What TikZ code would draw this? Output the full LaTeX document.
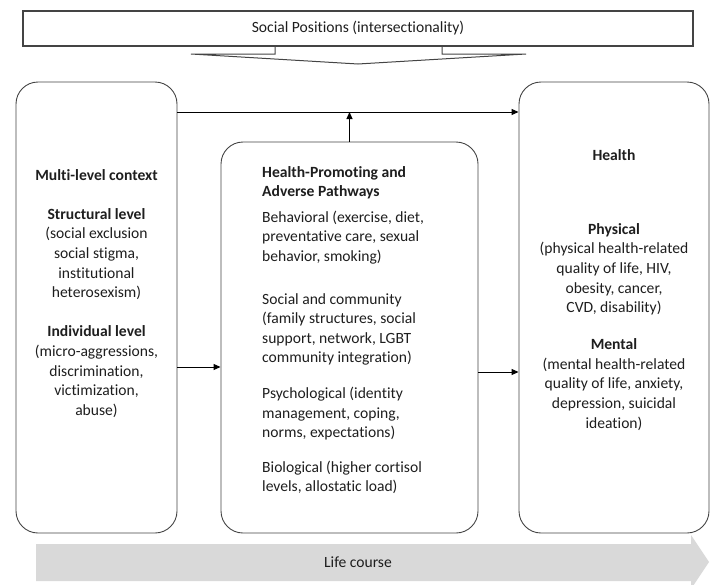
\documentclass[tikz,border=0pt]{standalone}
\usepackage{fontspec}
\setmainfont[Ligatures=NoCommon]{Carlito}
\usetikzlibrary{arrows.meta,positioning}
\definecolor{boxline}{HTML}{444444}
\definecolor{lifegray}{HTML}{D9D9D9}
\definecolor{txt}{HTML}{1E1E1E}

\begin{document}
\begin{tikzpicture}[x=1pt, y=-1pt,
  every node/.style={font=\fontsize{15.6}{19.6}\selectfont, text=txt},
  stage/.style={draw=boxline, line width=0.9pt, rounded corners=22pt, inner sep=0pt},
  blurb/.style={inner sep=0pt},
  arr/.style={-{Triangle[length=7pt,width=6pt]}, line width=1pt}]
  \clip (0,0) rectangle (715,584);

  % life course band
  \fill[lifegray] (36,544) -- (691,544) -- (691,535) -- (709,562)
    -- (691,589) -- (691,581) -- (36,581) -- cycle;
  \node (life) at (358,562) {Life course};

  % social positions banner
  \node[draw=boxline, line width=1.3pt, minimum width=670pt, minimum height=35pt,
    inner sep=0pt] (soc) at (358,28.5) {Social Positions (intersectionality)};
  \draw[boxline, line width=1pt] (275,46) -- (275,54) -- (191,54) -- (358,64)
    -- (526,54) -- (442,54) -- (442,46);

  % the three stages
  \node[stage, minimum width=161pt, minimum height=451pt] (ctx) at (96.5,307.5) {};
  \node[stage, minimum width=257pt, minimum height=391pt] (path) at (349.5,337.5) {};
  \node[stage, minimum width=190pt, minimum height=451pt] (hlth) at (614,307.5) {};

  \node[blurb, align=center, anchor=north] (ctxtext) at (96.5,169)
    {\textbf{Multi-level context}\\[19.6pt]
     \textbf{Structural level}\\
     (social exclusion\\
     social stigma,\\
     institutional\\
     heterosexism)\\[19.6pt]
     \textbf{Individual level}\\
     (micro-aggressions,\\
     discrimination,\\
     victimization,\\
     abuse)};

  \node[blurb, align=left, anchor=north west] (pathtext) at (262,166)
    {\textbf{Health-Promoting and}\\
     \textbf{Adverse Pathways}\\[6pt]
     Behavioral (exercise, diet,\\
     preventative care, sexual\\
     behavior, smoking)\\[23pt]
     Social and community\\
     (family structures, social\\
     support, network, LGBT\\
     community integration)\\[16pt]
     Psychological (identity\\
     management, coping,\\
     norms, expectations)\\[15pt]
     Biological (higher cortisol\\
     levels, allostatic load)};

  \node[blurb, align=center, anchor=north] (hlthtext) at (614,149)
    {\textbf{Health}\\[54.5pt]
     \textbf{Physical}\\
     (physical health-related\\
     quality of life, HIV,\\
     obesity, cancer,\\
     CVD, disability)\\[17.5pt]
     \textbf{Mental}\\
     (mental health-related\\
     quality of life, anxiety,\\
     depression, suicidal\\
     ideation)};

  % connectors
  \coordinate (topline) at (0,112);
  \coordinate (lowA) at (0,367);
  \coordinate (lowB) at (0,372);
  \draw[arr] (ctx.east |- topline) -- (hlth.west |- topline);
  \draw[arr] (path.north) -- (path.north |- topline);
  \draw[arr] (ctx.east |- lowA) -- (path.west |- lowA);
  \draw[arr] (path.east |- lowB) -- (hlth.west |- lowB);
\end{tikzpicture}
\end{document}
